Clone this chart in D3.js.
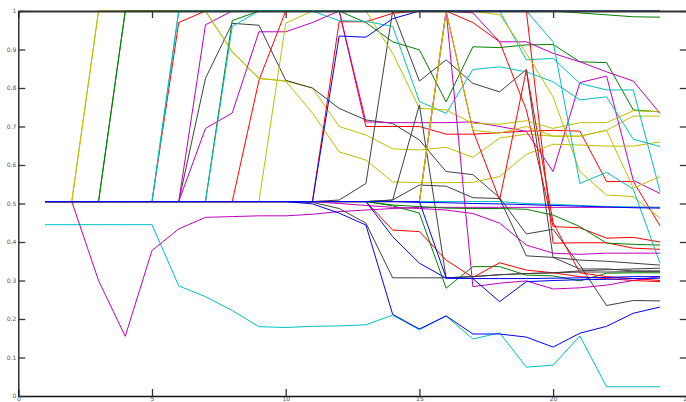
<!DOCTYPE html>
<html>
<head>
<meta charset="utf-8">
<script src="https://cdn.jsdelivr.net/npm/d3@7"></script>
<style>
  html, body { margin: 0; padding: 0; background: #fff; }
  svg { display: block; }
  .tick text { font-family: "DejaVu Sans", sans-serif; font-size: 6px; fill: #555; }
</style>
</head>
<body>
<svg id="chart" width="686" height="402"></svg>
<script>
// Iteration index shared by every run
const iterations = [1,2,3,4,5,6,7,8,9,10,11,12,13,14,15,16,17,18,19,20,21,22,23,24];

// Axis ticks
const xTicks = [0, 5, 10, 15, 20, 25];
const yTicks = [0, 0.1, 0.2, 0.3, 0.4, 0.5, 0.6, 0.7, 0.8, 0.9, 1];

// Per-run values, grouped by colour cycle (blue, green, red, cyan, magenta, olive, grey)
const run01 = [0.505,0.505,0.505,0.505,0.505,0.505,0.505,0.505,0.505,0.505,0.499,0.475,0.444,0.212,0.174,0.208,0.161,0.161,0.153,0.127,0.163,0.181,0.215,0.231];
const run02 = [0.505,0.505,0.505,1,1,1,1,1,1,1,1,1,0.97,0.92,0.899,0.764,0.907,0.905,0.912,0.913,0.868,0.866,0.743,0.738];
const run03 = [0.505,0.505,0.505,0.505,0.505,0.97,1,1,1,1,1,1,0.70,0.70,0.70,0.68,0.68,0.684,0.688,0.69,0.688,0.557,0.557,0.442];
const run04 = [0.445,0.445,0.445,0.445,0.445,0.286,0.258,0.222,0.18,0.178,0.181,0.182,0.185,0.21,0.172,0.208,0.148,0.164,0.075,0.08,0.156,0.024,0.024,0.024];
const run05 = [0.505,0.505,0.30,0.155,0.378,0.434,0.464,0.466,0.468,0.468,0.472,0.479,0.483,0.487,0.49,0.49,0.49,0.49,0.49,0.49,0.49,0.49,0.49,0.49];
const run06 = [0.505,0.505,1,1,1,1,1,0.894,0.825,0.818,0.80,0.70,0.678,0.642,0.639,0.646,0.62,0.67,0.68,0.675,0.675,0.69,0.727,0.727];
const run07 = [0.505,0.505,0.505,0.505,0.505,0.505,0.825,0.968,0.963,0.82,0.80,0.747,0.717,0.708,0.665,0.583,0.575,0.515,0.421,0.433,0.34,0.235,0.248,0.247];

const run08 = [0.505,0.505,0.505,0.505,0.505,0.505,0.505,0.505,0.505,0.505,0.505,0.935,0.932,0.98,1,1,1,1,1,1,1,1,1,1];
const run09 = [0.505,0.505,0.505,0.505,0.505,0.505,0.505,0.975,1,1,1,1,1,1,1,1,1,1,1,1,0.995,0.99,0.985,0.984];
const run10 = [0.505,0.505,0.505,0.505,0.505,0.505,0.505,0.505,0.82,1,1,1,1,1,1,1,1,1,1,0.397,0.398,0.398,0.384,0.381];
const run11 = [0.505,0.505,0.505,0.505,0.505,0.505,0.505,0.505,0.505,0.505,0.505,0.505,0.505,0.505,0.505,0.505,0.505,0.505,0.5,0.498,0.495,0.492,0.491,0.49];
const run12 = [0.505,0.505,0.505,0.505,0.505,0.505,0.964,1,1,1,1,1,0.712,0.71,0.71,0.71,0.712,0.70,0.687,0.583,0.814,0.831,0.56,0.526];
const run13 = [0.505,0.505,1,1,1,1,1,0.894,0.825,0.818,0.735,0.634,0.613,0.556,0.554,0.554,0.555,0.57,0.628,0.654,0.652,0.649,0.649,0.66];
const run14 = [0.505,0.505,0.505,0.505,0.505,0.505,0.505,0.505,0.505,0.505,0.505,0.509,0.552,1,0.818,0.873,0.812,0.79,0.848,0.36,0.33,0.33,0.325,0.325];

const run15 = [0.505,0.505,0.505,0.505,0.505,0.505,0.505,0.505,0.505,0.505,0.505,0.505,0.505,0.414,0.345,0.306,0.305,0.305,0.305,0.306,0.307,0.308,0.31,0.31];
const run16 = [0.505,0.505,0.505,1,1,1,1,1,1,1,1,1,1,1,1,1,1,1,1,1,1,1,1,1];
const run17 = [0.505,0.505,0.505,0.505,0.505,0.505,0.505,0.505,0.505,0.505,0.505,0.972,0.972,0.994,1,1,0.97,0.92,0.743,0.44,0.437,0.41,0.412,0.40];
const run18 = [0.505,0.505,0.505,0.505,0.505,1,1,1,1,1,1,0.975,0.973,0.96,0.765,0.734,0.848,0.855,0.842,0.816,0.769,0.777,0.667,0.648];
const run19 = [0.505,0.505,0.505,0.505,0.505,0.505,0.695,0.735,0.946,0.946,0.97,1,1,1,1,1,0.995,0.92,0.92,0.89,0.868,0.842,0.818,0.734];
const run20 = [0.505,0.505,0.505,0.505,0.505,0.505,0.505,0.505,0.505,0.968,1,1,1,0.89,0.747,0.743,0.708,0.706,0.715,0.695,0.71,0.71,0.741,0.738];
const run21 = [0.505,0.505,0.505,0.505,0.505,0.505,0.505,0.505,0.505,0.505,0.505,0.505,0.505,0.509,0.756,0.307,0.31,0.315,0.318,0.32,0.322,0.322,0.323,0.323];

const run22 = [0.505,0.505,0.505,0.505,0.505,0.505,0.505,0.505,0.505,0.505,0.505,0.505,0.505,0.505,0.505,0.307,0.305,0.245,0.297,0.30,0.302,0.303,0.305,0.306];
const run23 = [0.505,0.505,0.505,0.505,0.505,0.505,0.505,0.505,0.505,0.505,0.505,0.505,0.505,0.494,0.475,0.28,0.336,0.336,0.314,0.312,0.299,0.319,0.32,0.32];
const run24 = [0.505,0.505,0.505,0.505,0.505,0.505,0.505,0.505,0.505,0.505,0.505,0.505,0.505,0.505,0.505,1,0.69,0.509,0.847,0.45,0.32,0.31,0.305,0.30];
const run25 = [0.505,0.505,0.505,0.505,0.505,0.505,0.505,0.96,1,1,1,1,1,1,1,1,1,1,0.873,0.877,0.812,0.795,0.795,0.531];
const run26 = [0.505,0.505,0.505,0.505,0.505,0.505,0.505,0.505,0.505,0.505,0.505,0.505,0.505,0.505,0.505,1,0.284,0.293,0.299,0.278,0.281,0.288,0.30,0.31];
const run27 = [0.505,0.505,0.505,0.505,0.505,0.505,0.505,0.505,0.505,0.505,0.505,0.505,0.505,0.505,0.505,1,1,0.99,0.89,0.777,0.583,0.522,0.518,0.462];
const run28 = [0.505,0.505,0.505,0.505,0.505,0.505,0.505,0.505,0.505,0.505,0.505,0.505,0.505,0.509,0.548,0.545,0.515,0.513,0.364,0.36,0.353,0.35,0.345,0.34];

const run29 = [0.505,0.505,0.505,0.505,0.505,0.505,0.505,0.505,0.505,0.505,0.505,0.505,0.505,0.505,0.503,0.502,0.5,0.499,0.497,0.495,0.493,0.491,0.489,0.488];
const run30 = [0.505,0.505,0.505,0.505,0.505,0.505,0.505,0.505,0.505,0.505,0.505,0.505,0.505,0.496,0.492,0.488,0.487,0.487,0.485,0.47,0.44,0.397,0.394,0.392];
const run31 = [0.505,0.505,0.505,0.505,0.505,0.505,0.505,0.505,0.505,0.505,0.505,0.505,0.505,0.431,0.427,0.353,0.308,0.346,0.327,0.32,0.31,0.305,0.30,0.297];
const run32 = [0.505,0.505,0.505,0.505,0.505,1,1,1,1,1,1,1,1,1,1,1,1,1,1,0.92,0.552,0.581,0.537,0.345];
const run33 = [0.505,0.505,0.505,0.505,0.505,0.505,0.505,0.505,0.505,0.505,0.505,0.5,0.495,0.49,0.487,0.483,0.474,0.449,0.392,0.371,0.368,0.371,0.371,0.371];
const run34 = [0.505,0.505,0.505,0.505,0.505,0.505,0.505,0.505,0.505,0.505,0.505,0.505,0.505,0.505,0.505,1,0.69,0.683,0.70,0.675,0.675,0.69,0.54,0.57];
const run35 = [0.505,0.505,0.505,0.505,0.505,0.505,0.505,0.505,0.505,0.505,0.503,0.487,0.449,0.307,0.307,0.307,0.31,0.315,0.318,0.32,0.325,0.328,0.33,0.332];

// Line colour cycle
const palette = ["#0000ff", "#008000", "#ff0000", "#00bfbf", "#bf00bf", "#bfbf00", "#404040"];

const runs = [
  run01, run02, run03, run04, run05, run06, run07,
  run08, run09, run10, run11, run12, run13, run14,
  run15, run16, run17, run18, run19, run20, run21,
  run22, run23, run24, run25, run26, run27, run28,
  run29, run30, run31, run32, run33, run34, run35
];

const svg = d3.select("#chart");
const x = d3.scaleLinear().domain([0, 25]).range([18.3, 686.8]);
const y = d3.scaleLinear().domain([0, 1]).range([396, 11]);

// Traces: colour follows the run's place in the cycle; blue runs are painted last
const traces = runs.map((values, i) => ({ values, color: palette[i % palette.length], slot: i % palette.length }));
traces.sort((a, b) => (a.slot === 0) - (b.slot === 0));

const line = d3.line()
  .x((d, i) => x(iterations[i]))
  .y(d => y(d));

svg.append("g")
  .selectAll("path")
  .data(traces)
  .join("path")
  .attr("d", d => line(d.values))
  .attr("fill", "none")
  .attr("stroke", d => d.color)
  .attr("stroke-width", 1)
  .attr("stroke-linejoin", "miter");

// Box axes with inward ticks
const tick = 7;
const gx = svg.append("g").attr("transform", `translate(0,${y(0)})`)
  .call(d3.axisBottom(x).tickValues(xTicks).tickSizeInner(-tick).tickSizeOuter(0).tickPadding(2).tickFormat(d3.format("")));
const gxt = svg.append("g").attr("transform", `translate(0,${y(1)})`)
  .call(d3.axisTop(x).tickValues(xTicks).tickSizeInner(-tick).tickSizeOuter(0).tickFormat(""));
const gy = svg.append("g").attr("transform", `translate(${x(0)},0)`)
  .call(d3.axisLeft(y).tickValues(yTicks).tickSizeInner(-tick).tickSizeOuter(0).tickPadding(2).tickFormat(d3.format("")));
const gyr = svg.append("g").attr("transform", `translate(${x(25)},0)`)
  .call(d3.axisRight(y).tickValues(yTicks).tickSizeInner(-tick).tickSizeOuter(0).tickFormat(""));

[gx, gxt, gy, gyr].forEach(g => {
  g.selectAll(".domain").attr("stroke", "#111").attr("stroke-width", 1.3);
  g.selectAll(".tick line").attr("stroke", "#333").attr("stroke-width", 1.3);
});
gxt.select(".domain").attr("stroke", "#333").attr("stroke-width", 2);
gx.selectAll(".tick text").attr("dy", "0.5em");
</script>
</body>
</html>
